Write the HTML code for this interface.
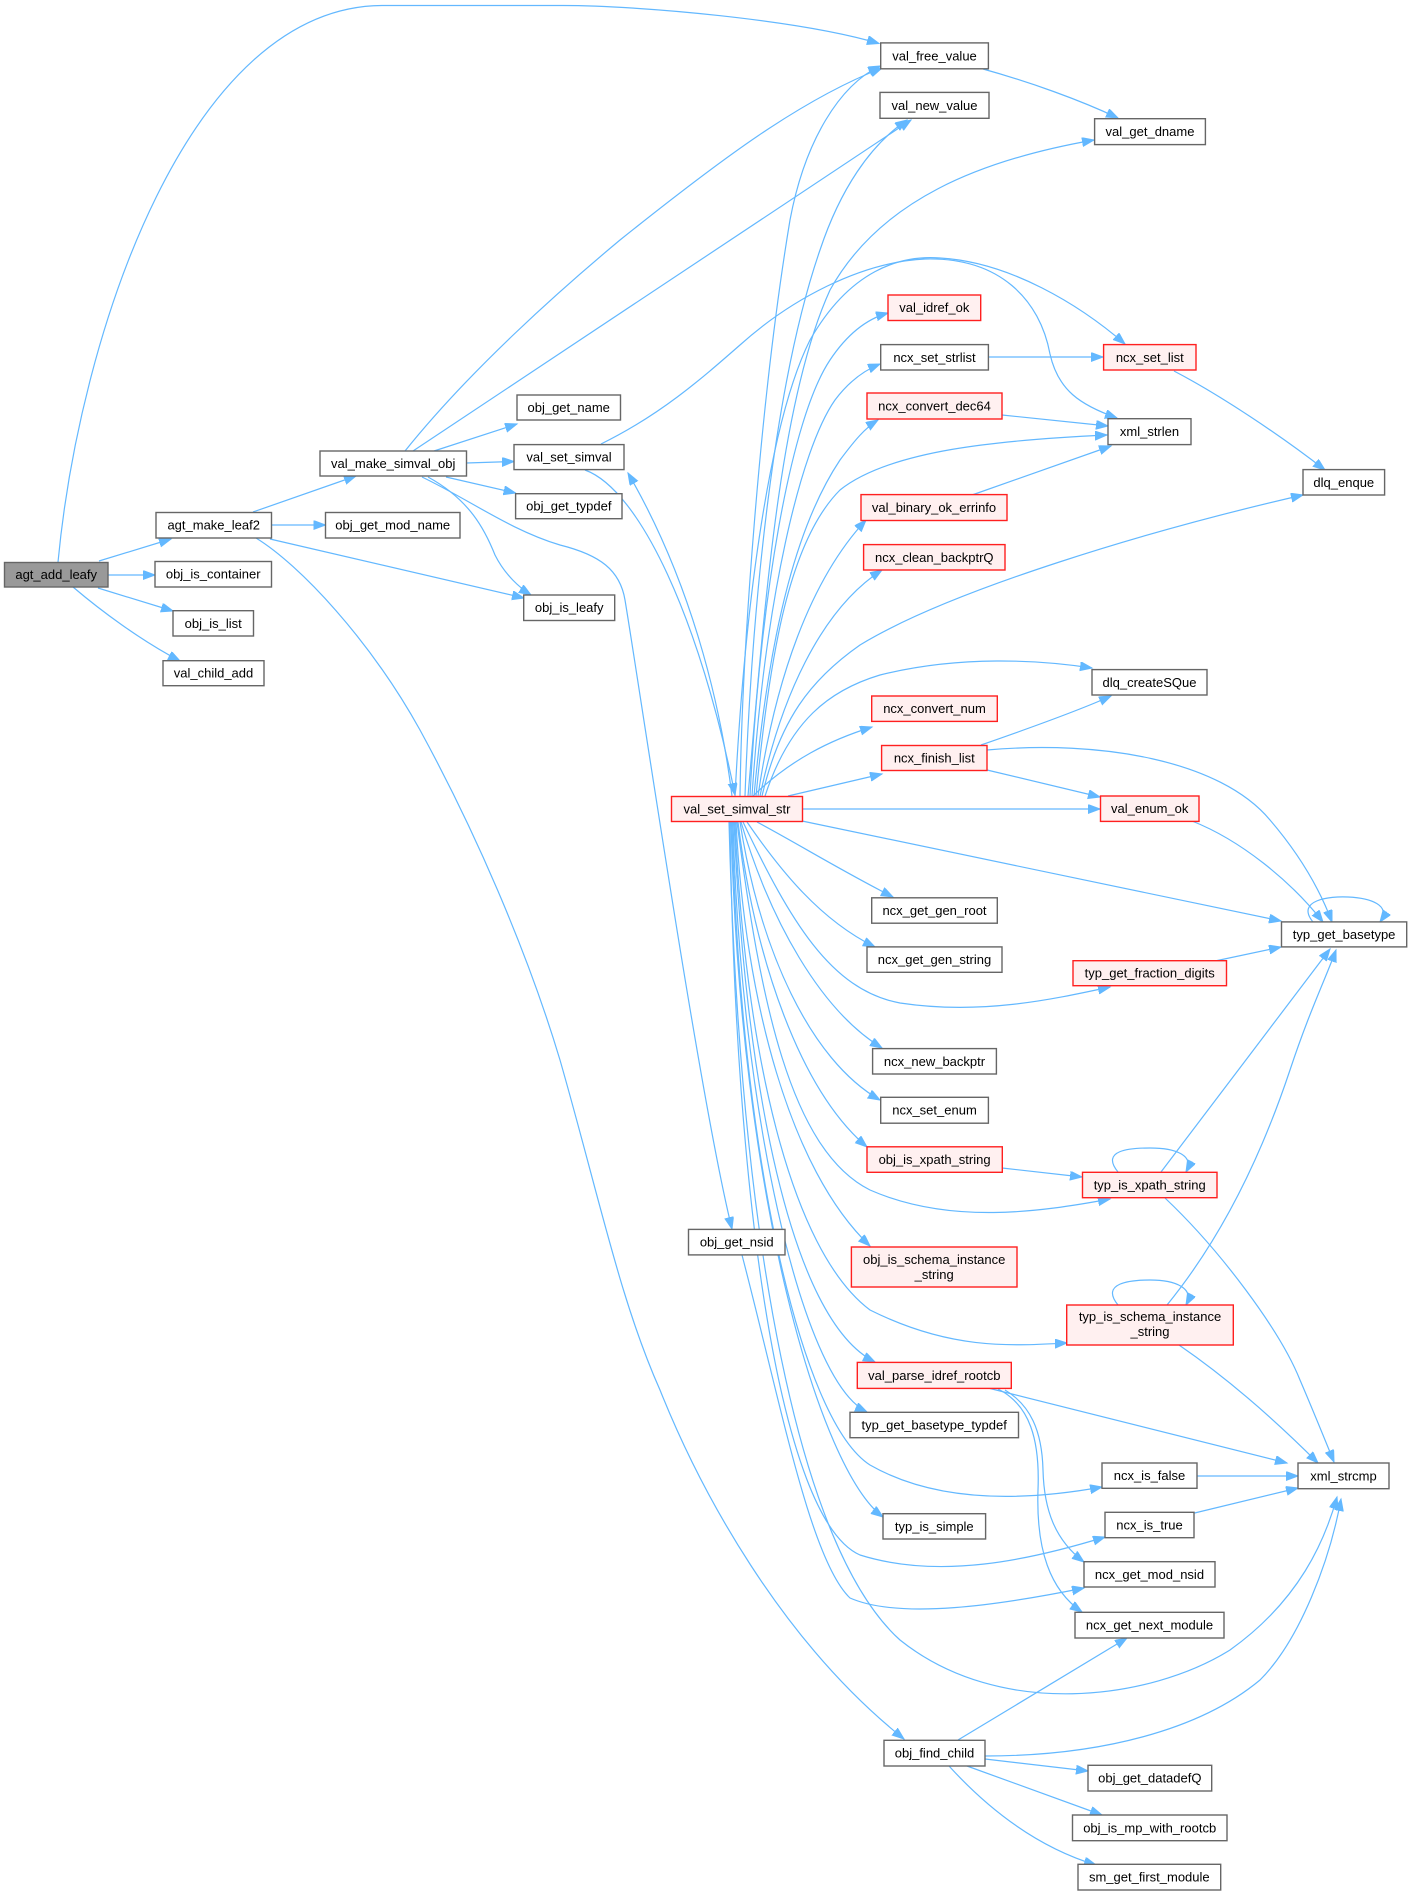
<!DOCTYPE html>
<html><head><meta charset="utf-8"><style>
html,body{margin:0;padding:0;background:#fff;}
svg{display:block;}
text{font-family:"Liberation Sans",Arial,sans-serif;font-size:13px;fill:#000;text-anchor:middle;}
.e{fill:none;stroke:#63b8ff;stroke-width:1.2;marker-end:url(#a);}
.n{fill:#fff;stroke:#666;stroke-width:1.4;}
.r{fill:#fff0f0;stroke:#ff2020;stroke-width:1.4;}
</style></head><body>
<svg width="1412" height="1895" viewBox="0 0 1412 1895" xmlns="http://www.w3.org/2000/svg">
<defs><marker id="a" markerWidth="14" markerHeight="12" refX="12" refY="4.5" orient="auto" markerUnits="userSpaceOnUse"><path d="M0,0 L12,4.5 L0,9 z" fill="#63b8ff" stroke="#63b8ff" stroke-width="1"/></marker></defs>
<g>
<path class="e" d="M58,562 C80,330 190,5.5 383,5.5 L563,5.5 C640,5.5 800,20 879,43.5"/>
<path class="e" d="M99,561 L171,539"/>
<path class="e" d="M108,575 L155,575"/>
<path class="e" d="M98,588 L173,611"/>
<path class="e" d="M73,587 C100,610 140,640 180,661"/>
<path class="e" d="M253,512 L356,476"/>
<path class="e" d="M271.5,525 L325.5,525"/>
<path class="e" d="M270,539 L524,598"/>
<path class="e" d="M256,538 C300,565 370,640 420,730 C480,840 530,960 560,1060 C600,1200 620,1300 660,1390 C700,1490 780,1640 904,1739"/>
<path class="e" d="M405,451 C470,370 560,290 620,240 C720,160 800,100 882,68"/>
<path class="e" d="M413,451 L911,120"/>
<path class="e" d="M434,451 L517,424"/>
<path class="e" d="M466.5,463 L514,461.5"/>
<path class="e" d="M446,477 L515.6,493"/>
<path class="e" d="M428,477 C470,500 485,530 495,555 C505,575 520,588 531,595"/>
<path class="e" d="M422,477 C470,500 510,530 560,545 C600,555 620,570 625,600 C640,690 700,1100 732,1229"/>
<path class="e" d="M601,444 C660,415 700,380 740,345 C790,300 860,262 925,259 C1000,257 1040,300 1050,354 C1058,390 1080,405 1117,418"/>
<path class="e" d="M585,470 C640,490 700,620 735,795"/>
<path class="e" d="M732,796 C720,700 690,580 628,473"/>
<path class="e" d="M735,796 C745,600 770,420 810,340 C850,270 900,255 940,258 C1010,262 1080,305 1125,344"/>
<path class="e" d="M740,796 C742,650 760,400 790,220 C805,140 840,85 880,66"/>
<path class="e" d="M745,796 C752,600 775,380 820,250 C840,190 870,145 907,120"/>
<path class="e" d="M748,796 C765,600 780,400 830,290 C880,200 980,160 1094,140"/>
<path class="e" d="M750,796 C760,600 790,420 830,360 C850,330 870,318 888,313"/>
<path class="e" d="M752,796 C765,600 800,450 835,400 C850,380 865,370 880,364"/>
<path class="e" d="M754,796 C770,620 800,520 840,460 C855,440 865,428 878,420"/>
<path class="e" d="M756,796 C770,650 790,540 840,490 C890,450 1000,440 1107,435"/>
<path class="e" d="M758,796 C775,680 810,580 866,520"/>
<path class="e" d="M760,796 C780,700 820,610 882,570"/>
<path class="e" d="M762,796 C780,720 810,680 860,645 C950,590 1150,530 1303,495"/>
<path class="e" d="M765,796 C790,720 830,690 880,675 C960,655 1040,660 1092,668"/>
<path class="e" d="M753,796 C790,760 830,740 872,727"/>
<path class="e" d="M788,796 L882,774"/>
<path class="e" d="M802,809 L1100,809"/>
<path class="e" d="M802,821 L1281,921"/>
<path class="e" d="M757,822 C800,845 840,870 893,897"/>
<path class="e" d="M747,822 C780,870 820,920 875,947"/>
<path class="e" d="M743,822 C790,920 830,990 900,1003 C980,1015 1050,1000 1110,987"/>
<path class="e" d="M741,822 C770,920 820,1010 882,1048"/>
<path class="e" d="M740,822 C760,950 810,1060 880,1100"/>
<path class="e" d="M738,822 C755,960 800,1090 867,1147"/>
<path class="e" d="M737,822 C760,1000 790,1150 870,1190 C950,1225 1040,1212 1110,1199"/>
<path class="e" d="M736,822 C745,1000 790,1170 870,1246"/>
<path class="e" d="M735,822 C745,1050 790,1250 870,1310 C950,1350 1010,1346 1067,1343"/>
<path class="e" d="M734,822 C745,1080 790,1320 875,1362"/>
<path class="e" d="M733,822 C740,1100 800,1380 867,1412"/>
<path class="e" d="M732,822 C740,1150 800,1420 870,1465 C940,1505 1030,1500 1102,1487"/>
<path class="e" d="M731,822 C740,1200 820,1470 883,1517"/>
<path class="e" d="M730,822 C735,1200 780,1520 860,1555 C940,1580 1030,1560 1105,1537"/>
<path class="e" d="M729,822 C740,1250 800,1550 900,1640 C1000,1720 1150,1700 1230,1650 C1300,1600 1325,1540 1337,1497"/>
<path class="e" d="M742,1255 C780,1400 810,1560 850,1598 C900,1620 1000,1605 1084,1588"/>
<path class="e" d="M983,69 C1030,82 1080,100 1118,118"/>
<path class="e" d="M988,357 L1103,357"/>
<path class="e" d="M1174,371 C1220,395 1280,435 1325,470"/>
<path class="e" d="M1002,415 L1108,426"/>
<path class="e" d="M972,495 L1111,446"/>
<path class="e" d="M981,745 C1030,728 1080,710 1111,696"/>
<path class="e" d="M987,770 L1100,797"/>
<path class="e" d="M987,750 C1100,740 1220,760 1270,820 C1300,855 1320,890 1332,922"/>
<path class="e" d="M1192,821 C1240,840 1290,880 1323,922"/>
<path class="e" d="M1313,922 C1295,900 1330,896 1348,897 C1370,898 1392,905 1380,922"/>
<path class="e" d="M1215,961 L1281,947"/>
<path class="e" d="M1002,1168 L1082,1177"/>
<path class="e" d="M1118,1172 C1100,1150 1130,1148 1150,1148 C1175,1148 1195,1155 1186,1172"/>
<path class="e" d="M1161,1172 L1330,949"/>
<path class="e" d="M1165,1198 C1220,1250 1280,1330 1300,1380 C1315,1415 1325,1440 1334,1462"/>
<path class="e" d="M1118,1305 C1100,1283 1130,1280 1150,1280 C1175,1280 1195,1288 1186,1305"/>
<path class="e" d="M1167,1305 C1220,1240 1260,1160 1290,1070 C1310,1010 1325,980 1336,950"/>
<path class="e" d="M1179,1345 C1230,1380 1280,1425 1318,1463"/>
<path class="e" d="M988,1388 L1287,1463"/>
<path class="e" d="M1005,1390 C1030,1405 1042,1430 1043,1470 C1044,1510 1055,1540 1084,1562"/>
<path class="e" d="M998,1389 C1030,1405 1040,1440 1038,1490 C1036,1550 1050,1590 1082,1612"/>
<path class="e" d="M1197,1476 L1298,1476"/>
<path class="e" d="M1194.6,1513 L1298,1488"/>
<path class="e" d="M958,1740 L1127,1638"/>
<path class="e" d="M985,1756 C1100,1756 1200,1730 1260,1680 C1300,1640 1330,1560 1341,1499"/>
<path class="e" d="M985,1759 L1088,1771"/>
<path class="e" d="M967,1766 L1102,1815"/>
<path class="e" d="M949,1766 C980,1800 1030,1845 1096,1865"/>
</g>
<g>
<rect x="4.5" y="562.5" width="103.5" height="24.5" fill="#999" stroke="#666" stroke-width="1.4"/><text x="56.2" y="579.2">agt_add_leafy</text>
<rect class="n" x="156" y="512.5" width="115.5" height="25.5"/><text x="213.7" y="529.7">agt_make_leaf2</text>
<rect class="n" x="155" y="561.5" width="116.5" height="25.5"/><text x="213.2" y="578.7">obj_is_container</text>
<rect class="n" x="173" y="610.7" width="80.5" height="25.3"/><text x="213.2" y="627.8">obj_is_list</text>
<rect class="n" x="163" y="660.7" width="101" height="25"/><text x="213.5" y="677.7">val_child_add</text>
<rect class="n" x="320" y="451" width="146.5" height="25"/><text x="393.2" y="468">val_make_simval_obj</text>
<rect class="n" x="325.5" y="512.5" width="134.5" height="25.5"/><text x="392.7" y="529.7">obj_get_mod_name</text>
<rect class="n" x="517" y="395" width="103.5" height="25"/><text x="568.7" y="412">obj_get_name</text>
<rect class="n" x="514" y="444.6" width="110" height="25"/><text x="569" y="461.6">val_set_simval</text>
<rect class="n" x="515.6" y="493.7" width="106.4" height="25"/><text x="568.8" y="510.7">obj_get_typdef</text>
<rect class="n" x="523.7" y="595" width="91" height="25.5"/><text x="569.2" y="612.2">obj_is_leafy</text>
<rect class="n" x="880.7" y="42.9" width="107.7" height="25.9"/><text x="934.5" y="60.3">val_free_value</text>
<rect class="n" x="880" y="92.4" width="109" height="25.9"/><text x="934.5" y="109.8">val_new_value</text>
<rect class="n" x="1094.6" y="118.7" width="110.8" height="25.9"/><text x="1150" y="136.1">val_get_dname</text>
<rect class="r" x="888" y="295" width="92.7" height="25.5"/><text x="934.3" y="312.2">val_idref_ok</text>
<rect class="n" x="880.7" y="344.6" width="107.7" height="25.4"/><text x="934.5" y="361.8">ncx_set_strlist</text>
<rect class="r" x="1103.6" y="344.6" width="92.4" height="25.4"/><text x="1149.8" y="361.8">ncx_set_list</text>
<rect class="r" x="867" y="393" width="135" height="26"/><text x="934.5" y="410.5">ncx_convert_dec64</text>
<rect class="n" x="1108" y="418.7" width="83" height="25.9"/><text x="1149.5" y="436.1">xml_strlen</text>
<rect class="n" x="1303" y="469.6" width="81.6" height="25.4"/><text x="1343.8" y="486.8">dlq_enque</text>
<rect class="r" x="861" y="494.6" width="146" height="25.9"/><text x="934" y="512">val_binary_ok_errinfo</text>
<rect class="r" x="863.6" y="544.6" width="141.4" height="25.4"/><text x="934.3" y="561.8">ncx_clean_backptrQ</text>
<rect class="n" x="1092" y="669.6" width="115" height="25.4"/><text x="1149.5" y="686.8">dlq_createSQue</text>
<rect class="r" x="871.7" y="696" width="125.6" height="25.4"/><text x="934.5" y="713.2">ncx_convert_num</text>
<rect class="r" x="881.6" y="745.5" width="105.4" height="25"/><text x="934.3" y="762.5">ncx_finish_list</text>
<rect class="r" x="671.5" y="796.5" width="131" height="25"/><text x="737" y="813.5">val_set_simval_str</text>
<rect class="r" x="1100.5" y="796" width="98.5" height="25.4"/><text x="1149.7" y="813.2">val_enum_ok</text>
<rect class="n" x="871.7" y="897.8" width="125.6" height="25.4"/><text x="934.5" y="915">ncx_get_gen_root</text>
<rect class="n" x="1281.5" y="921.9" width="125.2" height="25"/><text x="1344.1" y="938.9">typ_get_basetype</text>
<rect class="n" x="867" y="946.9" width="135" height="25.4"/><text x="934.5" y="964.1">ncx_get_gen_string</text>
<rect class="r" x="1073" y="960.7" width="153.5" height="25"/><text x="1149.7" y="977.7">typ_get_fraction_digits</text>
<rect class="n" x="872.6" y="1048.6" width="123.8" height="25.4"/><text x="934.5" y="1065.8">ncx_new_backptr</text>
<rect class="n" x="880.7" y="1097.3" width="107.7" height="25.9"/><text x="934.5" y="1114.7">ncx_set_enum</text>
<rect class="r" x="867" y="1146.8" width="135.3" height="25.5"/><text x="934.6" y="1164">obj_is_xpath_string</text>
<rect class="r" x="1082.5" y="1172.3" width="134.5" height="25.4"/><text x="1149.7" y="1189.5">typ_is_xpath_string</text>
<rect class="n" x="688.5" y="1229.4" width="96.5" height="25.5"/><text x="736.7" y="1246.6">obj_get_nsid</text>
<rect class="r" x="851.4" y="1247" width="165.6" height="40"/><text x="934.2" y="1264">obj_is_schema_instance</text><text x="934.2" y="1279">_string</text>
<rect class="r" x="1066.7" y="1305" width="166.6" height="40"/><text x="1150" y="1321">typ_is_schema_instance</text><text x="1150" y="1336">_string</text>
<rect class="r" x="857.3" y="1362.4" width="154" height="26"/><text x="934.3" y="1379.9">val_parse_idref_rootcb</text>
<rect class="n" x="850" y="1412.3" width="168.5" height="25.4"/><text x="934.2" y="1429.5">typ_get_basetype_typdef</text>
<rect class="n" x="1102" y="1463" width="95" height="25.3"/><text x="1149.5" y="1480.1">ncx_is_false</text>
<rect class="n" x="1298" y="1463" width="91" height="25.7"/><text x="1343.5" y="1480.3">xml_strcmp</text>
<rect class="n" x="883" y="1513.7" width="102.6" height="25.3"/><text x="934.3" y="1530.8">typ_is_simple</text>
<rect class="n" x="1105" y="1512.3" width="89" height="25.4"/><text x="1149.5" y="1529.5">ncx_is_true</text>
<rect class="n" x="1084" y="1561.7" width="131" height="25.3"/><text x="1149.5" y="1578.8">ncx_get_mod_nsid</text>
<rect class="n" x="1075" y="1612.3" width="149" height="25.7"/><text x="1149.5" y="1629.6">ncx_get_next_module</text>
<rect class="n" x="884" y="1740.3" width="101" height="25.7"/><text x="934.5" y="1757.6">obj_find_child</text>
<rect class="n" x="1088" y="1765.3" width="123.7" height="25.7"/><text x="1149.8" y="1782.6">obj_get_datadefQ</text>
<rect class="n" x="1072.5" y="1815" width="154.5" height="25.7"/><text x="1149.7" y="1832.3">obj_is_mp_with_rootcb</text>
<rect class="n" x="1078" y="1864.3" width="142.7" height="25.7"/><text x="1149.3" y="1881.6">sm_get_first_module</text>
</g>
</svg>
</body></html>
